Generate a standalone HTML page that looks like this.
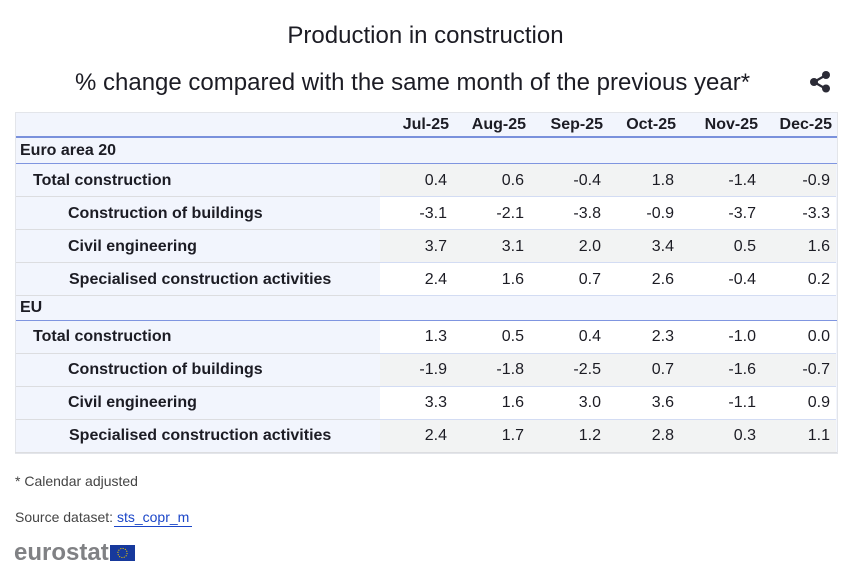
<!DOCTYPE html>
<html><head><meta charset="utf-8">
<style>
html,body{margin:0;padding:0;background:#fff;}
body{width:851px;height:572px;position:relative;overflow:hidden;font-family:"Liberation Sans",Arial,sans-serif;color:#1c1c24;}
.abs{position:absolute;}
.title{left:0;width:851px;text-align:center;font-size:24px;white-space:nowrap;}
.txt{position:absolute;font-size:16px;white-space:nowrap;}
.b{font-weight:bold;}
.n{text-align:right;width:70px;}
</style></head><body>
<div class="abs title" style="top:22px;">Production in construction</div>
<div class="abs" style="left:75px;top:69px;font-size:24px;white-space:nowrap;">% change compared with the same month of the previous year*</div>
<svg class="abs" style="left:805px;top:68px;" width="30" height="28" viewBox="0 0 30 28">
<line x1="9" y1="14" x2="21" y2="7" stroke="#2b2b36" stroke-width="2.2"/>
<line x1="9" y1="14" x2="21" y2="21" stroke="#2b2b36" stroke-width="2.2"/>
<circle cx="21" cy="7" r="4" fill="#2b2b36"/>
<circle cx="9" cy="14" r="4" fill="#2b2b36"/>
<circle cx="21" cy="20.5" r="4" fill="#2b2b36"/>
</svg>

<!-- table frame -->
<div class="abs" style="left:15px;top:112px;width:821px;height:340px;border:1px solid #e3e5ea;background:#f2f5fd;"></div>

<!-- header -->
<div class="abs" style="left:16px;top:136px;width:821px;height:2px;background:#7a91dc;"></div>
<div class="abs txt b" style="left:379px;top:116px;width:70px;text-align:right;">Jul-25</div>
<div class="abs txt b" style="left:456px;top:116px;width:70px;text-align:right;">Aug-25</div>
<div class="abs txt b" style="left:533px;top:116px;width:70px;text-align:right;">Sep-25</div>
<div class="abs txt b" style="left:606px;top:116px;width:70px;text-align:right;">Oct-25</div>
<div class="abs txt b" style="left:688px;top:116px;width:70px;text-align:right;">Nov-25</div>
<div class="abs txt b" style="left:762px;top:116px;width:70px;text-align:right;">Dec-25</div>

<!-- group EA -->
<div class="abs txt b" style="left:20px;top:142px;">Euro area 20</div>
<div class="abs" style="left:16px;top:163px;width:821px;height:1px;background:#7f95e0;"></div>

<!-- EA rows -->
<div class="abs" style="left:380px;top:164px;width:456px;height:32px;background:#f2f3f3;"></div>
<div class="abs" style="left:380px;top:197px;width:456px;height:32px;background:#ffffff;"></div>
<div class="abs" style="left:380px;top:230px;width:456px;height:32px;background:#f2f3f3;"></div>
<div class="abs" style="left:380px;top:263px;width:456px;height:32px;background:#ffffff;"></div>
<div class="abs" style="left:16px;top:196px;width:364px;height:1px;background:#dcdde0;"></div>
<div class="abs" style="left:16px;top:229px;width:364px;height:1px;background:#dcdde0;"></div>
<div class="abs" style="left:16px;top:262px;width:364px;height:1px;background:#dcdde0;"></div>
<div class="abs" style="left:16px;top:295px;width:364px;height:1px;background:#dcdde0;"></div>
<div class="abs" style="left:380px;top:196px;width:456px;height:1px;background:#d3dcf3;"></div>
<div class="abs" style="left:380px;top:229px;width:456px;height:1px;background:#d3dcf3;"></div>
<div class="abs" style="left:380px;top:262px;width:456px;height:1px;background:#d3dcf3;"></div>
<div class="abs" style="left:380px;top:295px;width:456px;height:1px;background:#d3dcf3;"></div>

<div class="abs txt b" style="left:33px;top:172px;">Total construction</div>
<div class="abs txt b" style="left:68px;top:205px;">Construction of buildings</div>
<div class="abs txt b" style="left:68px;top:238px;">Civil engineering</div>
<div class="abs txt b" style="left:69px;top:271px;">Specialised construction activities</div>

<!-- EU group -->
<div class="abs txt b" style="left:20px;top:299px;">EU</div>
<div class="abs" style="left:16px;top:320px;width:821px;height:1px;background:#7f95e0;"></div>

<div class="abs" style="left:380px;top:321px;width:456px;height:32px;background:#ffffff;"></div>
<div class="abs" style="left:380px;top:354px;width:456px;height:32px;background:#f2f3f3;"></div>
<div class="abs" style="left:380px;top:387px;width:456px;height:32px;background:#ffffff;"></div>
<div class="abs" style="left:380px;top:420px;width:456px;height:32px;background:#f2f3f3;"></div>
<div class="abs" style="left:16px;top:353px;width:364px;height:1px;background:#dcdde0;"></div>
<div class="abs" style="left:16px;top:386px;width:364px;height:1px;background:#dcdde0;"></div>
<div class="abs" style="left:16px;top:419px;width:364px;height:1px;background:#dcdde0;"></div>
<div class="abs" style="left:380px;top:353px;width:456px;height:1px;background:#d3dcf3;"></div>
<div class="abs" style="left:380px;top:386px;width:456px;height:1px;background:#d3dcf3;"></div>
<div class="abs" style="left:380px;top:419px;width:456px;height:1px;background:#d3dcf3;"></div>

<div class="abs txt b" style="left:33px;top:328px;">Total construction</div>
<div class="abs txt b" style="left:68px;top:361px;">Construction of buildings</div>
<div class="abs txt b" style="left:68px;top:394px;">Civil engineering</div>
<div class="abs txt b" style="left:69px;top:427px;">Specialised construction activities</div>

<div class="abs" style="left:0;top:1px;">
<!-- EA total -->
<div class="abs txt n" style="left:377px;top:171px;">0.4</div>
<div class="abs txt n" style="left:454px;top:171px;">0.6</div>
<div class="abs txt n" style="left:531px;top:171px;">-0.4</div>
<div class="abs txt n" style="left:604px;top:171px;">1.8</div>
<div class="abs txt n" style="left:686px;top:171px;">-1.4</div>
<div class="abs txt n" style="left:760px;top:171px;">-0.9</div>
<!-- EA buildings -->
<div class="abs txt n" style="left:377px;top:204px;">-3.1</div>
<div class="abs txt n" style="left:454px;top:204px;">-2.1</div>
<div class="abs txt n" style="left:531px;top:204px;">-3.8</div>
<div class="abs txt n" style="left:604px;top:204px;">-0.9</div>
<div class="abs txt n" style="left:686px;top:204px;">-3.7</div>
<div class="abs txt n" style="left:760px;top:204px;">-3.3</div>
<!-- EA civil -->
<div class="abs txt n" style="left:377px;top:237px;">3.7</div>
<div class="abs txt n" style="left:454px;top:237px;">3.1</div>
<div class="abs txt n" style="left:531px;top:237px;">2.0</div>
<div class="abs txt n" style="left:604px;top:237px;">3.4</div>
<div class="abs txt n" style="left:686px;top:237px;">0.5</div>
<div class="abs txt n" style="left:760px;top:237px;">1.6</div>
<!-- EA spec -->
<div class="abs txt n" style="left:377px;top:270px;">2.4</div>
<div class="abs txt n" style="left:454px;top:270px;">1.6</div>
<div class="abs txt n" style="left:531px;top:270px;">0.7</div>
<div class="abs txt n" style="left:604px;top:270px;">2.6</div>
<div class="abs txt n" style="left:686px;top:270px;">-0.4</div>
<div class="abs txt n" style="left:760px;top:270px;">0.2</div>
<!-- EU total -->
<div class="abs txt n" style="left:377px;top:327px;">1.3</div>
<div class="abs txt n" style="left:454px;top:327px;">0.5</div>
<div class="abs txt n" style="left:531px;top:327px;">0.4</div>
<div class="abs txt n" style="left:604px;top:327px;">2.3</div>
<div class="abs txt n" style="left:686px;top:327px;">-1.0</div>
<div class="abs txt n" style="left:760px;top:327px;">0.0</div>
<!-- EU buildings -->
<div class="abs txt n" style="left:377px;top:360px;">-1.9</div>
<div class="abs txt n" style="left:454px;top:360px;">-1.8</div>
<div class="abs txt n" style="left:531px;top:360px;">-2.5</div>
<div class="abs txt n" style="left:604px;top:360px;">0.7</div>
<div class="abs txt n" style="left:686px;top:360px;">-1.6</div>
<div class="abs txt n" style="left:760px;top:360px;">-0.7</div>
<!-- EU civil -->
<div class="abs txt n" style="left:377px;top:393px;">3.3</div>
<div class="abs txt n" style="left:454px;top:393px;">1.6</div>
<div class="abs txt n" style="left:531px;top:393px;">3.0</div>
<div class="abs txt n" style="left:604px;top:393px;">3.6</div>
<div class="abs txt n" style="left:686px;top:393px;">-1.1</div>
<div class="abs txt n" style="left:760px;top:393px;">0.9</div>
<!-- EU spec -->
<div class="abs txt n" style="left:377px;top:426px;">2.4</div>
<div class="abs txt n" style="left:454px;top:426px;">1.7</div>
<div class="abs txt n" style="left:531px;top:426px;">1.2</div>
<div class="abs txt n" style="left:604px;top:426px;">2.8</div>
<div class="abs txt n" style="left:686px;top:426px;">0.3</div>
<div class="abs txt n" style="left:760px;top:426px;">1.1</div>
</div>

<!-- bottom border -->
<div class="abs" style="left:15px;top:452px;width:822px;height:1px;background:#dcdde0;"></div>

<!-- footnotes -->
<div class="abs" style="left:15px;top:473px;font-size:14px;color:#444;white-space:nowrap;">* Calendar adjusted</div>
<div class="abs" style="left:15px;top:509px;font-size:14px;color:#444;white-space:nowrap;">Source dataset: <span style="color:#1b46c8;">sts_copr_m</span></div>
<div class="abs" style="left:114px;top:526px;width:78px;height:1px;background:#1b46c8;"></div>

<!-- logo -->
<div class="abs" style="left:14px;top:538px;font-size:24px;font-weight:bold;color:#808184;white-space:nowrap;line-height:30px;">eurostat</div>
<svg class="abs" style="left:110px;top:545px;" width="25" height="16" viewBox="0 0 25 16">
<rect width="25" height="16" fill="#17399c"/>
<circle cx="12.5" cy="8" r="4.6" fill="none" stroke="#e8c400" stroke-width="1" stroke-dasharray="1.2 1.2"/>
</svg>
</body></html>
